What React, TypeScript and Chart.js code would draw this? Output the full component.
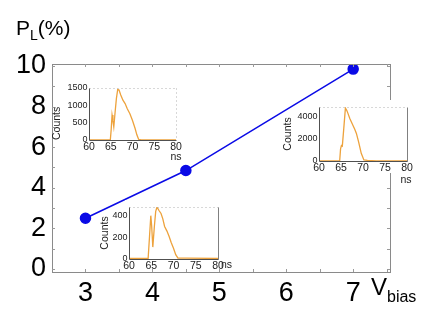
import React, { useEffect, useRef } from "react";
import { Chart, registerables } from "chart.js";
Chart.register(...registerables);

const FONT = "'Liberation Sans', Arial, sans-serif";

// Main chart data
const biasVoltages = [3, 4.5, 7];
const polarization = [2.5, 4.85, 9.85];
const xTickValues = [3, 4, 5, 6, 7];
const yTickValues = [0, 2, 4, 6, 8, 10];

// Inset histograms (time in ns, counts)
const ns45V = [60, 64.9, 65.1, 65.3, 65.5, 65.7, 66.0, 66.3, 66.6, 66.9, 67.3, 67.8, 68.3, 68.8, 69.4, 70.0, 70.6, 71.0, 71.4, 72, 80];
const counts45V = [0, 0, 300, 720, 560, 380, 800, 1200, 1460, 1440, 1300, 1150, 1050, 900, 760, 560, 330, 150, 20, 0, 0];

const ns7V = [60, 64.7, 64.9, 65.1, 65.3, 65.6, 66.0, 66.3, 66.6, 67.0, 67.7, 68.1, 68.5, 69.0, 69.6, 70.2, 71, 73, 80];
const counts7V = [0, 0, 1100, 1400, 1350, 2800, 4800, 4600, 4300, 3850, 3240, 2900, 2500, 1740, 700, 100, 60, 20, 0];

const ns3V = [60, 64.3, 64.6, 64.9, 65.1, 65.35, 65.7, 66.0, 66.3, 66.7, 67.2, 67.6, 68.0, 68.5, 69.0, 69.5, 70.0, 70.5, 71.0, 73, 80];
const counts3V = [5, 5, 200, 400, 300, 110, 300, 440, 480, 450, 420, 370, 300, 260, 210, 150, 100, 40, 8, 8, 5];

const nsTicks = [60, 65, 70, 75, 80];

const mainBoxPlugin = {
  id: "mainBox",
  afterDraw(chart: any) {
    const { ctx, chartArea: a, scales } = chart;
    ctx.save();
    ctx.strokeStyle = "#8a8a8a";
    ctx.lineWidth = 1;
    ctx.strokeRect(Math.round(a.left) + 0.5, Math.round(a.top) + 0.5, Math.round(a.right - a.left), Math.round(a.bottom - a.top));
    ctx.strokeStyle = "#9a9a9a";
    ctx.beginPath();
    for (let v = 0; v <= 10; v += 1) {
      const y = Math.round(scales.y.getPixelForValue(v)) + 0.5;
      ctx.moveTo(a.left, y); ctx.lineTo(a.left + 3, y);
      ctx.moveTo(a.right, y); ctx.lineTo(a.right - 3, y);
    }
    for (let v = 3; v <= 7.5; v += 0.5) {
      const x = Math.round(scales.x.getPixelForValue(v)) + 0.5;
      ctx.moveTo(x, a.bottom); ctx.lineTo(x, a.bottom - 3);
      ctx.moveTo(x, a.top); ctx.lineTo(x, a.top + 3);
    }
    ctx.stroke();
    ctx.restore();
  },
};

const insetPlugin = {
  id: "insetDeco",
  beforeDraw(chart: any) {
    const { ctx, chartArea: a } = chart;
    const o = chart.options.plugins.insetDeco;
    ctx.save();
    ctx.fillStyle = "#ffffff";
    ctx.fillRect(a.left - 4, a.top - 7, a.right - a.left + 10, a.bottom - a.top + 7 + o.bgBelow);
    ctx.restore();
  },
  afterDraw(chart: any) {
    const { ctx, chartArea: a } = chart;
    const o = chart.options.plugins.insetDeco;
    const L = Math.round(a.left) + 0.5, R = Math.round(a.right) + 0.5;
    const T = Math.round(a.top) + 0.5, B = Math.round(a.bottom) + 0.5;
    ctx.save();
    ctx.lineWidth = 1;
    ctx.strokeStyle = "#b0b0b0";
    ctx.setLineDash([1, 3]);
    ctx.beginPath();
    ctx.moveTo(L, T); ctx.lineTo(R, T);
    ctx.stroke();
    ctx.setLineDash(o.rightDotted ? [1, 3] : []);
    ctx.strokeStyle = o.rightDotted ? "#b0b0b0" : "#808080";
    ctx.beginPath();
    ctx.moveTo(R, T); ctx.lineTo(R, B);
    ctx.stroke();
    ctx.setLineDash([]);
    ctx.strokeStyle = "#505050";
    ctx.beginPath();
    ctx.moveTo(L, T); ctx.lineTo(L, B); ctx.lineTo(R, B);
    ctx.stroke();
    ctx.fillStyle = "#222";
    ctx.font = `10.5px ${FONT}`;
    ctx.textBaseline = "middle";
    ctx.textAlign = o.nsInline ? "left" : "center";
    ctx.fillText("ns", a.right + o.nsDx, a.bottom + o.nsDy);
    ctx.restore();
  },
};

type InsetDef = {
  left: number; top: number; w: number; h: number;
  yw: number; xh: number; padTop: number; padRight: number;
  ns: number[]; counts: number[]; yMax: number; yStep: number;
  titlePad: number; titleAlign: string;
  nsInline: boolean; nsDx: number; nsDy: number; rightDotted: boolean; bgBelow: number;
};

const insets: InsetDef[] = [
  { left: 50, top: 80, w: 135, h: 84, yw: 39, xh: 24, padTop: 8, padRight: 9, ns: ns45V, counts: counts45V, yMax: 1500, yStep: 500, titlePad: 1, titleAlign: "start", nsInline: false, nsDx: 0, nsDy: 17, rightDotted: true, bgBelow: 12 },
  { left: 279, top: 99, w: 138, h: 90, yw: 40, xh: 28, padTop: 8, padRight: 10, ns: ns7V, counts: counts7V, yMax: 4900, yStep: 1000, titlePad: 2.5, titleAlign: "center", nsInline: false, nsDx: -1, nsDy: 19, rightDotted: false, bgBelow: 12 },
  { left: 98, top: 199, w: 142, h: 76, yw: 31, xh: 16, padTop: 8, padRight: 22, ns: ns3V, counts: counts3V, yMax: 480, yStep: 100, titlePad: 1, titleAlign: "center", nsInline: true, nsDx: 3, nsDy: 6, rightDotted: false, bgBelow: 10 },
];

function Inset({ def }: { def: InsetDef }) {
  const ref = useRef<HTMLCanvasElement | null>(null);
  useEffect(() => {
    if (!ref.current) return;
    const chart = new Chart(ref.current, {
      type: "line",
      data: {
        datasets: [{
          data: def.ns.map((x, i) => ({ x, y: def.counts[i] })),
          borderColor: "#eda23c",
          borderWidth: 1.3,
          pointRadius: 0,
          tension: 0,
        }],
      },
      options: {
        responsive: false,
        animation: false,
        layout: { padding: { top: def.padTop, right: def.padRight, left: 0, bottom: 0 } },
        plugins: {
          legend: { display: false },
          tooltip: { enabled: false },
          insetDeco: { nsInline: def.nsInline, nsDx: def.nsDx, nsDy: def.nsDy, rightDotted: def.rightDotted, bgBelow: def.bgBelow },
        } as any,
        scales: {
          x: {
            type: "linear", min: 60, max: 80,
            afterBuildTicks: (s: any) => { s.ticks = nsTicks.map((v) => ({ value: v })); },
            afterFit: (s: any) => { s.height = def.xh; s.paddingLeft = 0; s.paddingRight = 0; },
            grid: { display: false, drawTicks: false },
            border: { display: false },
            ticks: { padding: 1, color: "#222", font: { family: FONT, size: 10.5 }, maxRotation: 0, autoSkip: false, callback: (v: any) => String(v) },
          },
          y: {
            type: "linear", min: 0, max: def.yMax,
            afterBuildTicks: (s: any) => {
              const t = [];
              for (let v = 0; v <= def.yMax; v += def.yStep) t.push({ value: v });
              s.ticks = t;
            },
            afterFit: (s: any) => { s.width = def.yw; s.paddingTop = 0; s.paddingBottom = 0; },
            grid: { display: false, drawTicks: false },
            border: { display: false },
            ticks: { padding: 1.5, color: "#222", font: { family: FONT, size: 9 }, callback: (v: any) => String(v) },
            title: { display: true, text: "Counts", color: "#222", align: def.titleAlign as any, padding: { top: def.titlePad, bottom: 0 }, font: { family: FONT, size: 10.5 } },
          },
        },
      } as any,
      plugins: [insetPlugin],
    });
    return () => chart.destroy();
  }, []);
  return (
    <canvas ref={ref} width={def.w} height={def.h}
      style={{ position: "absolute", left: def.left, top: def.top, width: def.w, height: def.h, display: "block" }} />
  );
}

export default function App() {
  const ref = useRef<HTMLCanvasElement | null>(null);
  useEffect(() => {
    document.body.style.margin = "0";
    if (!ref.current) return;
    const chart = new Chart(ref.current, {
      type: "line",
      data: {
        datasets: [{
          data: biasVoltages.map((x, i) => ({ x, y: polarization[i] })),
          borderColor: "#0a0ae6",
          backgroundColor: "#0a0ae6",
          borderWidth: 1.5,
          pointRadius: 5,
          pointHoverRadius: 5,
          tension: 0,
        }],
      },
      options: {
        responsive: false,
        animation: false,
        layout: { padding: { top: 64, right: 41, left: 0, bottom: 0 } },
        plugins: { legend: { display: false }, tooltip: { enabled: false } },
        scales: {
          x: {
            type: "linear", min: 2.5, max: 7.55,
            afterBuildTicks: (s: any) => { s.ticks = xTickValues.map((v) => ({ value: v })); },
            afterFit: (s: any) => { s.height = 48; s.paddingLeft = 0; s.paddingRight = 0; },
            grid: { display: false, drawTicks: false },
            border: { display: false },
            ticks: { padding: 5, color: "#000", font: { family: FONT, size: 27 }, maxRotation: 0, autoSkip: false },
          },
          y: {
            type: "linear", min: -0.15, max: 10.1,
            afterBuildTicks: (s: any) => { s.ticks = yTickValues.map((v) => ({ value: v })); },
            afterFit: (s: any) => { s.width = 52; s.paddingTop = 0; s.paddingBottom = 0; },
            grid: { display: false, drawTicks: false },
            border: { display: false },
            ticks: { padding: 6, color: "#000", font: { family: FONT, size: 27 } },
          },
        },
      } as any,
      plugins: [mainBoxPlugin],
    });
    return () => chart.destroy();
  }, []);

  return (
    <div style={{ position: "relative", width: 431, height: 320, background: "#fff", overflow: "hidden" }}>
      <canvas ref={ref} width={431} height={320} style={{ position: "absolute", left: 0, top: 0, width: 431, height: 320, display: "block" }} />
      {insets.map((d, i) => <Inset key={i} def={d} />)}
      <div style={{ position: "absolute", left: 16, top: 14, fontFamily: FONT, fontSize: 21, color: "#000", lineHeight: "28px", whiteSpace: "nowrap" }}>
        P<sub style={{ fontSize: 14, verticalAlign: "-5px" }}>L</sub>(%)
      </div>
      <div style={{ position: "absolute", left: 371, top: 272, fontFamily: FONT, fontSize: 24, color: "#000", lineHeight: "30px", whiteSpace: "nowrap" }}>
        V<sub style={{ fontSize: 16, verticalAlign: "-7px" }}>bias</sub>
      </div>
    </div>
  );
}
